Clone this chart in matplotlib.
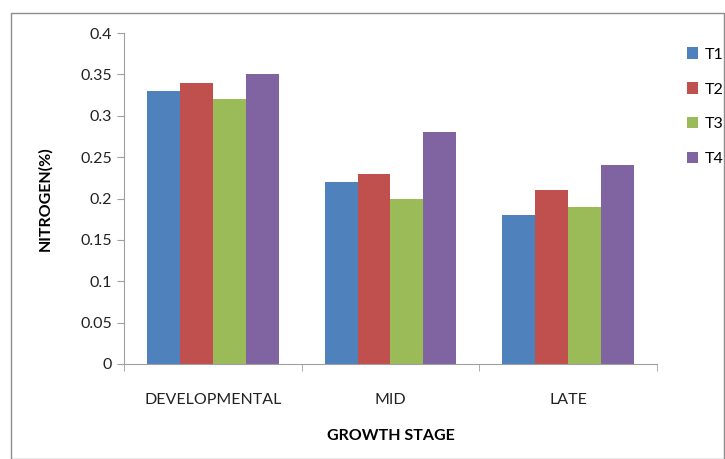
import numpy as np
import matplotlib.pyplot as plt
from matplotlib.patches import Rectangle

plt.rcParams['font.family'] = ['Lato', 'DejaVu Sans']

stages = ['DEVELOPMENTAL', 'MID', 'LATE']
series = ['T1', 'T2', 'T3', 'T4']
t1 = [0.33, 0.22, 0.18]
t2 = [0.34, 0.23, 0.21]
t3 = [0.32, 0.20, 0.19]
t4 = [0.35, 0.28, 0.24]
colors = ['#4F81BD', '#C0504D', '#9BBB59', '#8064A2']

fig = plt.figure(figsize=(7.25, 4.59), dpi=100)
ax = fig.add_axes([0.171, 0.207, 0.735, 0.721])

# outer chart border
fig.patches.append(Rectangle((11 / 725, 0), 1 - 11 / 725 - 0.002, 1 - 13 / 459,
                             transform=fig.transFigure, fill=False,
                             edgecolor='#8c8c8c', linewidth=1.0))

x = np.arange(len(stages))
w = 0.185
for i, (vals, name) in enumerate(zip([t1, t2, t3, t4], series)):
    ax.bar(x + (i - 1.5) * w, vals, w, color=colors[i], label=name)

ax.set_xlim(-0.5, 2.5)
ax.set_ylim(0, 0.4)
ax.set_yticks(np.arange(0, 0.401, 0.05))
ax.set_yticklabels(['0', '0.05', '0.1', '0.15', '0.2', '0.25', '0.3', '0.35', '0.4'])
ax.set_xticks(x)
ax.set_xticklabels(stages)
ax.set_xticks([-0.5, 0.5, 1.5, 2.5], minor=True)
ax.tick_params(axis='x', which='major', length=0, pad=21, labelsize=11.5, colors='#222222')
ax.tick_params(axis='x', which='minor', length=5, color='#a0a0a0', direction='out')
ax.tick_params(axis='y', length=5, color='#a0a0a0', labelsize=11.5, labelcolor='#222222')

for s in ['top', 'right']:
    ax.spines[s].set_visible(False)
for s in ['left', 'bottom']:
    ax.spines[s].set_color('#a0a0a0')

ax.set_xlabel('GROWTH STAGE', fontweight='bold', fontsize=11.5, labelpad=16)
ax.set_ylabel('NITROGEN(%)', fontweight='bold', fontsize=11.5, labelpad=20)

ax.legend(loc='upper left', bbox_to_anchor=(1.03, 1.0), frameon=False,
          handlelength=0.7, handleheight=0.7, handletextpad=0.4,
          labelspacing=1.3, fontsize=11.5)

fig.savefig('out.png', dpi=100)
